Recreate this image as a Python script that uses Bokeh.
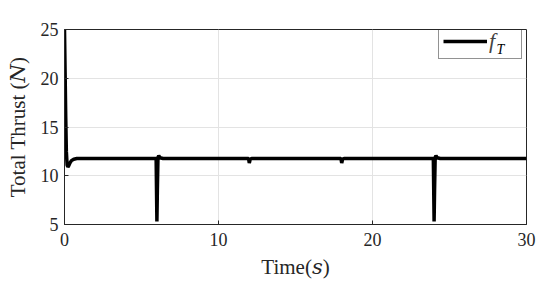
from bokeh.plotting import figure
from bokeh.models import Range1d, FixedTicker, Legend, LegendItem, Label
from bokeh.embed import file_html
from bokeh.resources import INLINE

# Time samples (s) and total thrust (N)
time_s = [0.0, 0.04, 0.08, 0.12, 0.17, 0.22, 0.28, 0.35, 0.45, 0.6, 0.8, 1.0,
          5.95, 6.0, 6.03, 6.07, 6.12, 6.2, 6.4,
          11.95, 12.0, 12.06, 12.15,
          17.95, 18.0, 18.06, 18.15,
          23.95, 24.0, 24.03, 24.07, 24.12, 24.2, 24.4, 30.0]
thrust = [25.0, 20.5, 16.0, 12.5, 11.1, 10.9, 11.05, 11.3, 11.55, 11.7, 11.76, 11.77,
          11.77, 5.3, 8.5, 11.9, 12.05, 11.85, 11.77,
          11.77, 11.3, 11.7, 11.77,
          11.77, 11.3, 11.7, 11.77,
          11.77, 5.3, 8.5, 11.9, 12.05, 11.85, 11.77, 11.77]

x_ticks = [0, 10, 20, 30]
y_ticks = [5, 10, 15, 20, 25]

FONT = "Liberation Serif, DejaVu Serif, serif"
AX = "#262626"

p = figure(width=550, height=283, output_backend="svg", toolbar_location=None,
           x_range=Range1d(0, 30), y_range=Range1d(5, 25),
           min_border_left=64, min_border_right=24, min_border_top=29, min_border_bottom=59)

r = p.line(time_s, thrust, line_color="black", line_width=3.5)

for ax in (p.xaxis[0], p.yaxis[0]):
    ax.major_label_text_font = FONT
    ax.major_label_text_font_size = "18px"
    ax.major_label_text_color = AX
    ax.axis_label_text_font = FONT
    ax.axis_label_text_font_size = "21px"
    ax.axis_label_text_font_style = "normal"
    ax.axis_label_text_color = AX
    ax.axis_line_color = AX
    ax.major_tick_line_color = AX
    ax.major_tick_in = 4
    ax.major_tick_out = 0
    ax.minor_tick_line_color = None

p.xaxis.ticker = FixedTicker(ticks=x_ticks)
p.yaxis.ticker = FixedTicker(ticks=y_ticks)
p.xaxis.major_label_standoff = 8
p.yaxis.major_label_standoff = 6
p.xaxis.axis_label = "Time(\U0001D460)"
p.yaxis.axis_label = "Total Thrust (\U0001D441)"
p.xaxis.axis_label_standoff = 6
p.yaxis.axis_label_standoff = 8

p.xgrid.grid_line_color = "#e3e3e3"
p.ygrid.grid_line_color = "#e3e3e3"
p.outline_line_color = AX
p.outline_line_alpha = 1.0
p.outline_line_width = 1

legend = Legend(items=[LegendItem(label="f", renderers=[r])],
                location=(374, 165), label_text_font=FONT, label_text_font_size="22px",
                label_text_font_style="italic",
                border_line_color=AX, border_line_width=1, background_fill_alpha=0,
                glyph_width=44, glyph_height=22, margin=0, padding=4, spacing=0,
                label_standoff=2, label_width=28, label_height=22)
p.add_layout(legend, "center")

sub = Label(x=432, y=168, x_units="screen", y_units="screen", text="T",
            text_font=FONT, text_font_size="14px", text_font_style="italic",
            text_color="black", level="overlay")
p.add_layout(sub)

open("out.html", "w").write(file_html(p, INLINE))
